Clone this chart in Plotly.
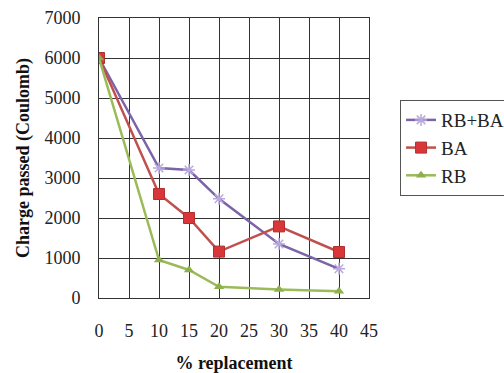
import plotly.graph_objects as go

x_vals = [0, 10, 15, 20, 30, 40]
rb_ba = [6000, 3250, 3200, 2480, 1350, 730]
ba = [6000, 2600, 2000, 1160, 1790, 1150]
rb = [6000, 950, 700, 280, 210, 170]

x_ticks = [0, 5, 10, 15, 20, 25, 30, 35, 40, 45]
y_ticks = [0, 1000, 2000, 3000, 4000, 5000, 6000, 7000]

serif = "Liberation Serif"

fig = go.Figure()
fig.add_trace(go.Scatter(
    x=x_vals, y=rb_ba, name="RB+BA", mode="lines+markers",
    line=dict(color="#7B64A8", width=2.5),
    marker=dict(symbol="asterisk-open", size=10, color="#B8A8DC",
                line=dict(color="#B8A8DC", width=1.5)),
))
fig.add_trace(go.Scatter(
    x=x_vals, y=ba, name="BA", mode="lines+markers",
    line=dict(color="#C0504D", width=2.5),
    marker=dict(symbol="square", size=11, color="#D9363A",
                line=dict(color="#B03030", width=1)),
))
fig.add_trace(go.Scatter(
    x=x_vals, y=rb, name="RB", mode="lines+markers",
    line=dict(color="#9BBB59", width=2.5),
    marker=dict(symbol="triangle-up", size=9, color="#8DB04A"),
))

fig.update_layout(
    width=504, height=373,
    margin=dict(l=99, r=135, t=18, b=75, autoexpand=False),
    paper_bgcolor="white", plot_bgcolor="white",
    font=dict(family=serif, size=18, color="#222"),
    showlegend=True,
    legend=dict(
        x=1.115, y=0.707, xanchor="left", yanchor="top",
        bordercolor="#555", borderwidth=1,
        font=dict(family=serif, size=19, color="#222"),
        tracegroupgap=2,
    ),
    xaxis=dict(
        range=[0, 45], tickvals=x_ticks, ticktext=[str(v) for v in x_ticks],
        showgrid=True, gridcolor="#333333", gridwidth=1,
        showline=True, linecolor="#333333", linewidth=1, mirror=True,
        ticks="outside", ticklen=16, tickcolor="rgba(0,0,0,0)",
        zeroline=False,
        tickfont=dict(family=serif, size=18, color="#222"),
        title=dict(text="<b>% replacement</b>", standoff=18,
                   font=dict(family=serif, size=18, color="#111")),
    ),
    yaxis=dict(
        range=[0, 7000], tickvals=y_ticks, ticktext=[str(v) for v in y_ticks],
        showgrid=True, gridcolor="#333333", gridwidth=1,
        showline=True, linecolor="#333333", linewidth=1, mirror=True,
        ticks="outside", ticklen=14, tickcolor="rgba(0,0,0,0)",
        zeroline=False,
        tickfont=dict(family=serif, size=18, color="#222"),
        title=dict(text="<b>Charge passed (Coulomb)</b>", standoff=10,
                   font=dict(family=serif, size=18, color="#111")),
    ),
)

fig.write_html("out.html")
